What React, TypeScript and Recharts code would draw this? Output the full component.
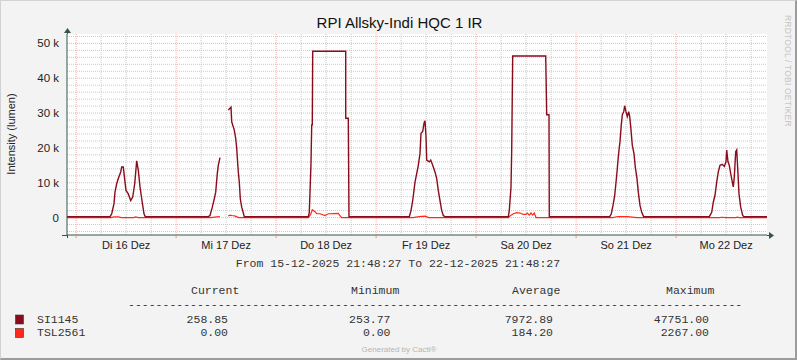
import { LineChart, Line, XAxis, YAxis, ReferenceLine, ReferenceArea } from "recharts";

// Time axis is hours since the graph start (15-12-2025 21:48:27).
const RANGE_HOURS = 168;
const FIRST_MIDNIGHT = 24 - (21 + 48 / 60 + 27 / 3600);

const dayLabels = ["Di 16 Dez", "Mi 17 Dez", "Do 18 Dez", "Fr 19 Dez", "Sa 20 Dez", "So 21 Dez", "Mo 22 Dez"];
const midnightHours = dayLabels.map((_, i) => FIRST_MIDNIGHT + 24 * i);
const noonHours = midnightHours.map((h) => h + 12);
const quarterHours = Array.from({ length: 28 }, (_, i) => FIRST_MIDNIGHT + 6 * i).filter((_, i) => i % 4 !== 0);

const yTicks = [0, 10000, 20000, 30000, 40000, 50000];
const yMinorGrid = [-4000, -2000, 2000, 4000, 6000, 8000, 12000, 14000, 16000, 18000, 22000, 24000, 26000, 28000, 32000, 34000, 36000, 38000, 42000, 44000, 46000, 48000, 52000];

// [hour, lumen]; null = missing sample
const si1145: [number, number | null][] = [
  [0, 256], [10.32, 256], [10.73, 1100], [11.28, 4000], [11.52, 7300], [11.93, 9700], [12.31, 11200], [12.89, 13100],
  [13.13, 14500], [13.51, 14500], [13.92, 10200], [14.16, 7800], [14.71, 6800], [15.29, 4900], [15.77, 5900],
  [16.25, 9700], [16.73, 16300], [17.11, 13600], [17.52, 8800], [17.93, 5400], [18.48, 1100], [18.79, 256],
  [33.91, 256], [34.32, 600], [34.87, 3000], [35.35, 5400], [35.69, 7300], [36.07, 12600], [36.31, 15000], [36.72, 17200],
  [37.7, null],
  [38.71, 30900], [39.12, 31400], [39.36, 31700], [39.53, 27500], [40.15, 25100], [40.49, 22700], [40.73, 19900],
  [40.97, 15500], [41.11, 13100], [41.35, 10200], [41.59, 5400], [41.93, 3000], [42.17, 2000], [42.55, 256],
  [57.91, 256], [58.15, 1500], [58.56, 15500], [58.73, 26600], [58.87, 26600], [58.97, 47751], [66.89, 47751],
  [66.9, 28500], [67.51, 28500], [67.68, 256],
  [82.15, 256], [82.56, 2000], [82.97, 4900], [83.28, 7800], [83.52, 10200], [83.93, 12600], [84.31, 15000], [84.72, 18400],
  [84.96, 24200], [85.37, 24700], [85.68, 27100], [85.92, 27800], [86.16, 23200], [86.33, 16500], [86.95, 16000],
  [87.29, 16500], [87.77, 15000], [88.32, 13100], [88.73, 11200], [89.11, 7800], [89.52, 4900], [89.93, 2000],
  [90.31, 600], [90.72, 256],
  [105.91, 256], [106.15, 2000], [106.56, 8800], [106.73, 19400], [106.97, 46400], [114.89, 46400], [115.13, 29500],
  [115.68, 29500], [115.75, 256],
  [130.25, 256], [130.63, 1100], [131.04, 3500], [131.45, 6400], [131.69, 9200], [132.0, 13100], [132.24, 16500],
  [132.48, 19400], [132.72, 21800], [133.03, 26600], [133.27, 29500], [133.61, 30400], [133.85, 32100], [134.16, 30400],
  [134.47, 29000], [134.81, 30400], [135.05, 29000], [135.29, 26100], [135.67, 20800], [136.08, 18400], [136.39, 14500],
  [136.8, 11200], [137.11, 7300], [137.52, 3500], [137.93, 1500], [138.41, 256],
  [154.15, 256], [154.73, 1500], [155.11, 4400], [155.52, 6400], [155.93, 10200], [156.31, 13100], [156.72, 15000],
  [157.27, 15300], [157.75, 14700], [158.16, 16000], [158.33, 19400], [158.64, 16000], [158.95, 15000], [159.29, 12600],
  [159.6, 10700], [159.91, 8800], [160.15, 11600], [160.49, 18900], [160.73, 19400], [160.97, 14100], [161.28, 6800],
  [161.69, 3000], [162.17, 600], [162.48, 256], [168, 259],
];

const tsl2561: [number, number | null][] = [
  [0, 0], [10.5, 0], [11.3, 200], [12.4, 200], [13.0, 0], [16.0, 0], [16.5, 200], [17.1, 0],
  [34.5, 0], [35.9, 200], [36.7, 300], [37.7, null], [38.7, 450], [39.1, 700], [39.6, 600], [40.2, 500], [40.8, 200], [41.2, 0],
  [57.9, 0], [58.48, 900], [58.87, 2267], [59.52, 1700], [59.93, 1100], [60.72, 1100], [61.92, 600], [62.71, 1100],
  [65.11, 1200], [65.69, 300], [65.93, 0],
  [83.0, 0], [84.5, 300], [86.0, 400], [86.8, 0],
  [105.91, 0], [106.48, 600], [107.11, 1100], [107.93, 1400], [108.72, 1300], [109.51, 900], [110.16, 900], [110.47, 1300],
  [110.95, 700], [111.36, 1300], [111.77, 700], [112.15, 1300], [112.56, 0],
  [131.0, 0], [132.2, 300], [134.5, 300], [136.8, 0],
  [156.5, 0], [157.3, 100], [158.0, 0], [160.5, 0], [160.9, 100], [161.3, 0], [168, 0],
];

const legendHeads = ["Current", "Minimum", "Average", "Maximum"];
const legendRows = [
  { name: "SI1145", color: "#8A0C1C", values: ["258.85", "253.77", "7972.89", "47751.00"] },
  { name: "TSL2561", color: "#FF2A1A", values: ["0.00", "0.00", "184.20", "2267.00"] },
];

const toRows = (pts: [number, number | null][]) => pts.map(([t, v]) => ({ t, v }));

const SANS = "'Liberation Sans', Arial, sans-serif";
const MONO = "'Liberation Mono', 'Courier New', monospace";
const AXIS = "#35554A";
const MINOR = "#C9C9C9";
const MAJOR = "#EDB3B3";

function DayTick(props: any) {
  const { x, y, payload } = props;
  const idx = noonHours.indexOf(payload.value);
  if (idx >= 0) {
    return (
      <text x={x} y={y + 14} textAnchor="middle" fontSize={11} fontFamily={SANS} fill="#222">
        {dayLabels[idx]}
      </text>
    );
  }
  return <line x1={x} y1={y} x2={x} y2={y + 3} stroke="#C99" />;
}

const headX = [191, 351, 512, 666];
const valEndX = [228, 390.5, 553, 709];

export default function App() {
  return (
    <div style={{ position: "absolute", left: 0, top: 0, width: 797, height: 360, background: "#F3F3F3", boxSizing: "border-box", borderTop: "1px solid #D2D2D2", borderLeft: "1px solid #D2D2D2", borderRight: "2px solid #9C9C9C", borderBottom: "2px solid #9C9C9C" }}>
      <div style={{ position: "absolute", left: -1, top: -1 }}>
        <LineChart width={797} height={360} margin={{ top: 34, right: 30, bottom: 95, left: 0 }}>
          <XAxis
            dataKey="t"
            type="number"
            domain={[0, RANGE_HOURS]}
            allowDataOverflow
            ticks={[...midnightHours, ...noonHours].sort((a, b) => a - b)}
            interval={0}
            tick={<DayTick />}
            tickLine={false}
            tickSize={0}
            tickMargin={0}
            height={30}
            axisLine={{ stroke: AXIS }}
          />
          <YAxis
            type="number"
            domain={[-5000, 52700]}
            allowDataOverflow
            ticks={yTicks}
            interval={0}
            width={67}
            tickLine={false}
            tickSize={0}
            tickMargin={8}
            tick={{ fontSize: 11.5, fontFamily: SANS, fill: "#222" }}
            tickFormatter={(v: number) => (v === 0 ? "0" : `${v / 1000} k`)}
            axisLine={{ stroke: AXIS }}
          />
          <ReferenceArea x1={0} x2={RANGE_HOURS} y1={-5000} y2={52700} fill="#fff" fillOpacity={1} stroke="none" />
          {yMinorGrid.map((v) => (
            <ReferenceLine key={`ym${v}`} y={v} stroke={MINOR} strokeDasharray="1 1" />
          ))}
          {quarterHours.map((h) => (
            <ReferenceLine key={`xm${h}`} x={h} stroke={MINOR} strokeDasharray="1 1" />
          ))}
          {yTicks.map((v) => (
            <ReferenceLine key={`yM${v}`} y={v} stroke={MAJOR} strokeDasharray="1 1" />
          ))}
          {midnightHours.map((h) => (
            <ReferenceLine key={`xM${h}`} x={h} stroke={MAJOR} strokeDasharray="1 1" />
          ))}
          <Line data={toRows(tsl2561)} dataKey="v" type="linear" stroke="#FF2A1A" strokeWidth={1.2} dot={false} isAnimationActive={false} connectNulls={false} />
          <Line data={toRows(si1145)} dataKey="v" type="linear" stroke="#8A0C1C" strokeWidth={1.4} dot={false} isAnimationActive={false} connectNulls={false} />
        </LineChart>
        <svg width={797} height={360} style={{ position: "absolute", left: 0, top: 0, pointerEvents: "none" }}>
          <line x1={67.5} y1={30} x2={67.5} y2={34} stroke={AXIS} />
          <line x1={67.5} y1={235} x2={67.5} y2={238} stroke={AXIS} />
          <line x1={62} y1={235.5} x2={67} y2={235.5} stroke={AXIS} />
          <line x1={767} y1={235.5} x2={770} y2={235.5} stroke={AXIS} />
          <polygon points="64,33 71,33 67.5,28" fill={AXIS} />
          <polygon points="769,232 769,239 774,235.5" fill={AXIS} />
          <text x={399.5} y={28} textAnchor="middle" fontSize={15} fontFamily={SANS} fill="#111">
            RPI Allsky-Indi HQC 1 IR
          </text>
          <text x={15} y={134} transform="rotate(-90 15 134)" textAnchor="middle" fontSize={11} fontFamily={SANS} fill="#222">
            Intensity (lumen)
          </text>
          <text x={785} y={15} transform="rotate(90 785 15)" fontSize={8.5} letterSpacing={0.2} fontFamily={SANS} fill="#C4C4C4">
            RRDTOOL / TOBI OETIKER
          </text>
          <text x={398} y={267} textAnchor="middle" fontSize={11.5} fontFamily={MONO} fill="#333" style={{ whiteSpace: "pre" }}>
            From 15-12-2025 21:48:27 To 22-12-2025 21:48:27
          </text>
          {legendHeads.map((h, i) => (
            <text key={h} x={headX[i]} y={294} fontSize={11.5} fontFamily={MONO} fill="#333">
              {h}
            </text>
          ))}
          <text x={128} y={307.5} fontSize={11.5} fontFamily={MONO} fill="#333">
            {"-".repeat(89)}
          </text>
          {legendRows.map((r, ri) => {
            const base = 322.5 + ri * 13.5;
            return (
              <g key={r.name}>
                <rect x={15.5} y={base - 7.5} width={8} height={9} fill={r.color} stroke="#333" strokeWidth={0.6} />
                <text x={37} y={base} fontSize={11.5} fontFamily={MONO} fill="#333">
                  {r.name}
                </text>
                {r.values.map((v, i) => (
                  <text key={i} x={valEndX[i]} y={base} textAnchor="end" fontSize={11.5} fontFamily={MONO} fill="#333">
                    {v}
                  </text>
                ))}
              </g>
            );
          })}
          <text x={399} y={352} textAnchor="middle" fontSize={8} fontFamily={SANS} fill="#B5B5B5">
            Generated by Cacti®
          </text>
        </svg>
      </div>
    </div>
  );
}
